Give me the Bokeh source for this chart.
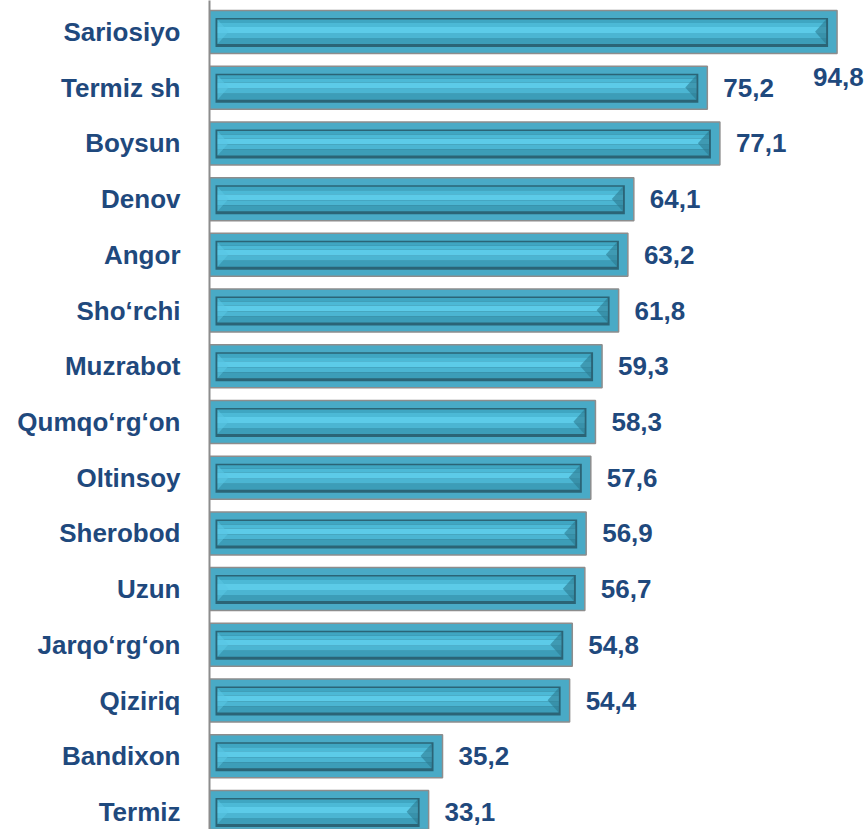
import numpy as np
from bokeh.plotting import figure
from bokeh.models import Range1d, FixedTicker, ColumnDataSource
from bokeh.core.properties import value
from bokeh.embed import file_html
from bokeh.resources import INLINE

districts = ["Sariosiyo", "Termiz sh", "Boysun", "Denov", "Angor", "Sho‘rchi",
             "Muzrabot", "Qumqo‘rg‘on", "Oltinsoy", "Sherobod", "Uzun",
             "Jarqo‘rg‘on", "Qiziriq", "Bandixon", "Termiz"]
values = [94.8, 75.2, 77.1, 64.1, 63.2, 61.8, 59.3, 58.3, 57.6, 56.9, 56.7,
          54.8, 54.4, 35.2, 33.1]
value_labels = [f"{v:.1f}".replace(".", ",") for v in values]

# scale helpers (pixels per data unit)
KX = 6.62
KY = 55.71
W, H = 866, 829
LEFT = 209
FONT = "Liberation Sans"
TXT = "#1F497D"

idx = np.arange(len(values), dtype=float)
vals = np.array(values, dtype=float)

p = figure(width=W, height=H, output_backend="svg", toolbar_location=None,
           x_range=Range1d(0, (W - LEFT) / KX),
           y_range=Range1d((H - 31.5) / KY, (0 - 31.5) / KY),
           min_border_left=LEFT, min_border_right=0, min_border_top=0,
           min_border_bottom=0)
p.outline_line_color = None
p.xgrid.visible = False
p.ygrid.visible = False
p.xaxis.visible = False
p.background_fill_color = "white"
p.border_fill_color = "white"


def px(v):
    return v / KX


def py(v):
    return v / KY


def band(l_px, r_px, top_px, bot_px, color, **kw):
    # rows grow downward in pixel space; y range is flipped
    src = ColumnDataSource(dict(
        y=idx + py((top_px + bot_px) / 2.0),
        left=np.full_like(vals, px(l_px)),
        right=vals - px(r_px),
    ))
    p.hbar(y="y", left="left", right="right", height=py(bot_px - top_px),
           source=src, fill_color=color, **kw)


# outer rim
band(0, 0, -21.5, 21.5, "#49aac6", line_color="#8d8d8d", line_width=1.5)
# inner dark frame
band(6, 9, -14, 15, "#2b6476", line_color=None)
# inner face bands (simulated gradient)
face = [(-12.5, -9, "#3fa6c2"), (-9, -5, "#4cb9d6"), (-5, 1, "#5ccbe8"),
        (1, 6, "#4bb5d2"), (6, 12, "#3c9db8")]
for t, b, c in face:
    band(8, 11, t, b, c, line_color=None)

# bevels at both ends of the face
lxs, lys, rxs, rys = [], [], [], []
for i, v in zip(idx, vals):
    top, mid, bot = i + py(-12.5), i + py(-0.25), i + py(12)
    lxs.append([px(8), px(19), px(8)])
    lys.append([top, mid, bot])
    rxs.append([v - px(11), v - px(22), v - px(11)])
    rys.append([top, mid, bot])
p.patches(xs=lxs, ys=lys, fill_color="#5ac6e3", fill_alpha=0.55, line_color=None)
p.patches(xs=rxs, ys=rys, fill_color="#2c7a90", fill_alpha=0.6, line_color=None)

# y axis with district names
p.yaxis.ticker = FixedTicker(ticks=list(range(len(districts))))
p.yaxis.major_label_overrides = {i: d for i, d in enumerate(districts)}
p.yaxis.major_label_text_font = FONT
p.yaxis.major_label_text_font_size = "26px"
p.yaxis.major_label_text_font_style = "bold"
p.yaxis.major_label_text_color = TXT
p.yaxis.major_label_standoff = 23
p.yaxis.axis_line_color = "#8c8c8c"
p.yaxis.axis_line_width = 2
p.yaxis.major_tick_line_color = None
p.yaxis.minor_tick_line_color = None

# value labels
lab = ColumnDataSource(dict(x=vals[1:], y=idx[1:], t=value_labels[1:]))
p.text(x="x", y="y", text="t", source=lab, x_offset=16, text_baseline="middle",
       text_font=value(FONT), text_font_style="bold", text_font_size="26px",
       text_color=TXT)
lab0 = ColumnDataSource(dict(x=vals[:1], y=idx[:1], t=value_labels[:1]))
p.text(x="x", y="y", text="t", source=lab0, x_offset=-24, y_offset=45,
       text_baseline="middle", text_font=value(FONT), text_font_style="bold",
       text_font_size="26px", text_color=TXT)

open("out.html", "w").write(file_html(p, INLINE))
